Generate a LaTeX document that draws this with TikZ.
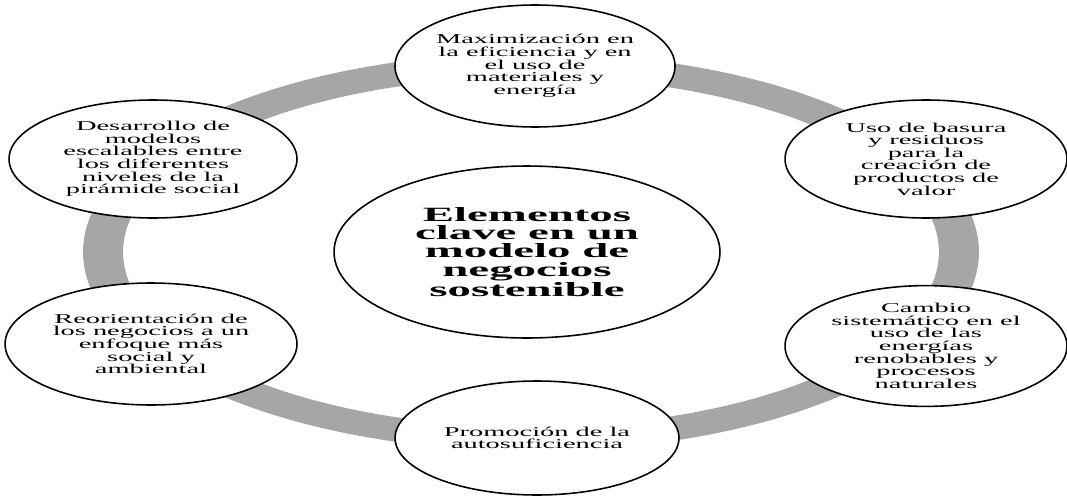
\documentclass[tikz,border=0pt]{standalone}
\usepackage{fontspec}
\setmainfont{Liberation Serif}[FakeStretch=2.1]
\newfontfamily\corefont{Liberation Serif}[FakeStretch=2.32]
\usetikzlibrary{shapes.geometric}
\definecolor{ringgray}{RGB}{166,166,166}

\begin{document}
\begin{tikzpicture}[x=0.02cm,y=-0.02cm,
  elem/.style={draw, ellipse, fill=white, line width=0.9pt, inner sep=0pt,
    align=center, font=\fontsize{7.7}{7.2}\selectfont},
  core/.style={elem, font=\corefont\fontsize{11.5}{10.4}\selectfont\bfseries}]
\useasboundingbox (0,0) rectangle (1067,497);

% gray ring behind the elements
\fill[ringgray, even odd rule] (531,252) ellipse [x radius=8.96cm, y radius=3.98cm]
  (531,252) ellipse [x radius=8.16cm, y radius=3.5cm];

\node[core, minimum width=7.72cm, minimum height=3.44cm] (centro) at (527,252)
  {Elementos\\clave en un\\modelo de\\negocios\\sostenible};

\node[elem, minimum width=5.6cm, minimum height=2.44cm] (maxim) at (535,66)
  {Maximización en\\la eficiencia y en\\el uso de\\materiales y\\energía};
\node[elem, minimum width=5.64cm, minimum height=2.36cm] (basura) at (926,159)
  {Uso de basura\\y residuos\\para la\\creación de\\productos de\\valor};
\node[elem, minimum width=5.64cm, minimum height=2.36cm] (cambio) at (926,346)
  {Cambio\\sistemático en el\\uso de las\\energías\\renobables y\\procesos\\naturales};
\node[elem, minimum width=5.68cm, minimum height=2.28cm] (promo) at (537,438)
  {Promoción de la\\autosuficiencia};
\node[elem, minimum width=5.84cm, minimum height=2.44cm] (reori) at (151,344)
  {Reorientación de\\los negocios a un\\enfoque más\\social y\\ambiental};
\node[elem, minimum width=5.76cm, minimum height=2.36cm] (desarr) at (153,159)
  {Desarrollo de\\modelos\\escalables entre\\los diferentes\\niveles de la\\pirámide social};
\end{tikzpicture}
\end{document}
